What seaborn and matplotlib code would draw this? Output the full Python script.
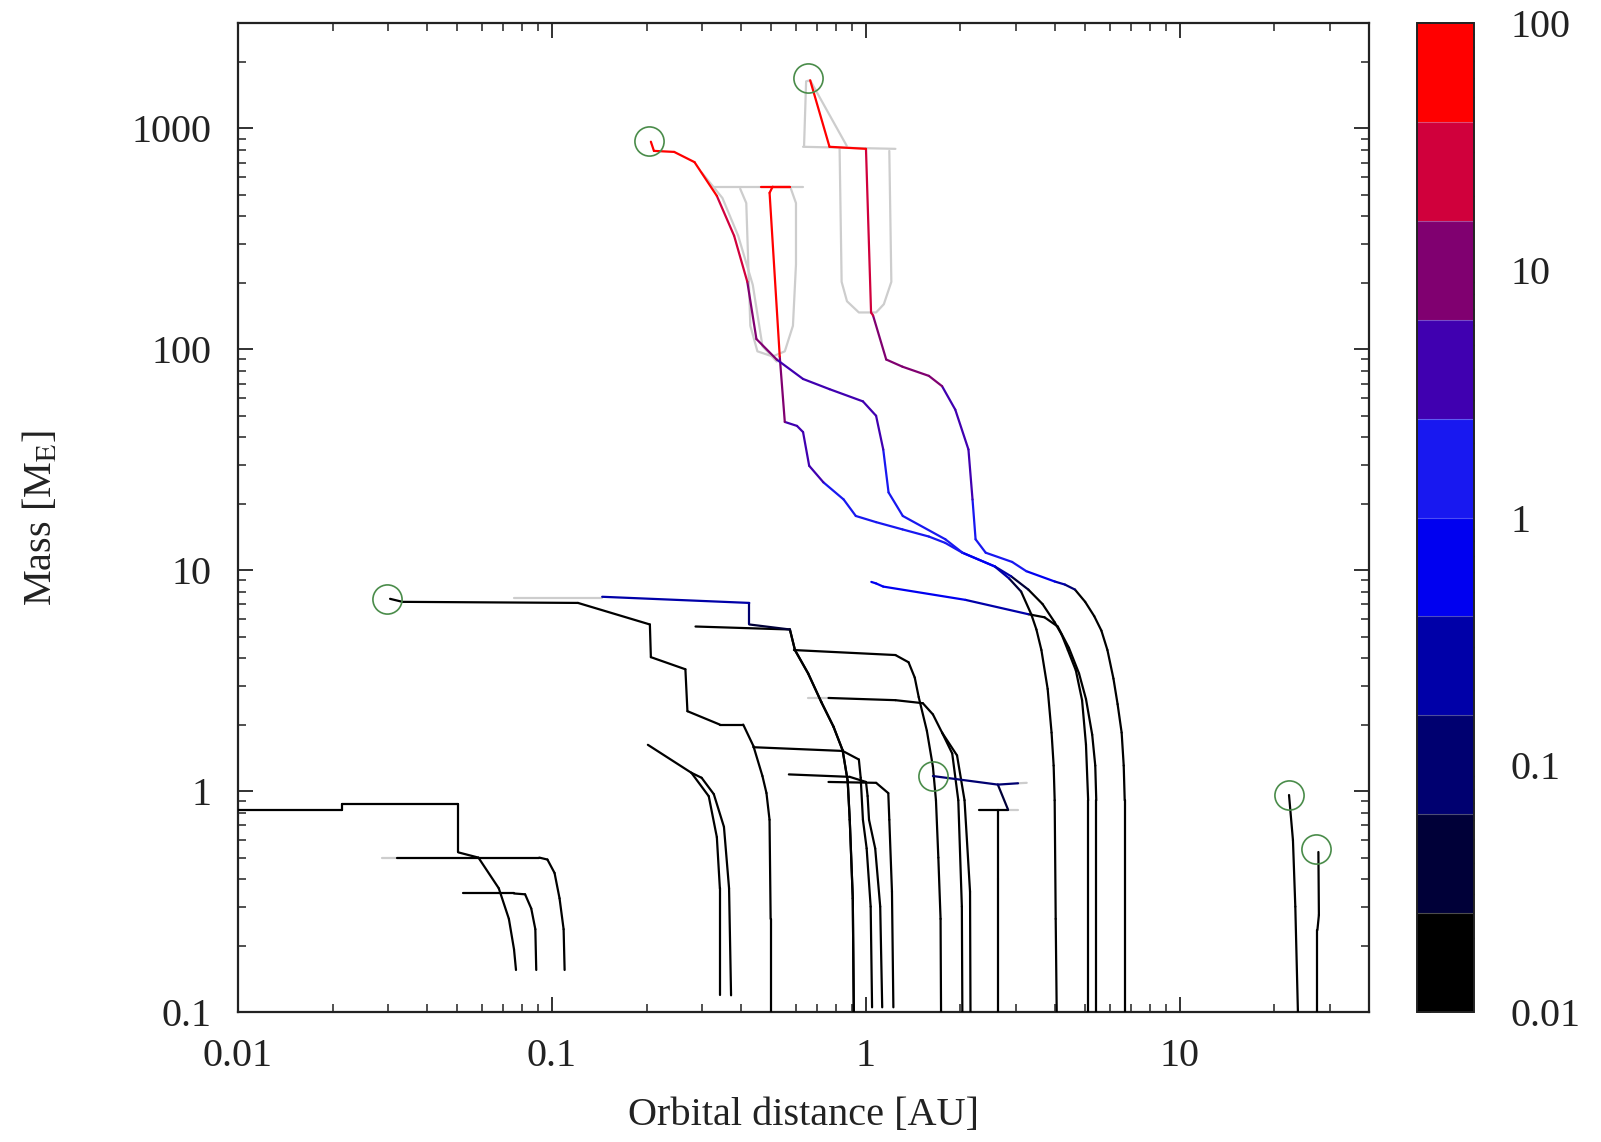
import matplotlib
matplotlib.use("Agg")
import numpy as np
import pandas as pd
import matplotlib.pyplot as plt
import seaborn as sns
from matplotlib.collections import LineCollection
from matplotlib.colors import ListedColormap, LogNorm
from matplotlib.cm import ScalarMappable
from matplotlib.ticker import LogLocator, NullFormatter, FuncFormatter, FixedLocator

# ---------------- data ----------------
# colour-bar bands (bottom -> top), values 0.01 .. 100 on a log scale
band_colors = ['#000000', '#000038', '#000070', '#0000a8', '#0000f0',
               '#1818f0', '#4000b0', '#800070', '#d0003c', '#ff0000']
cbar_ticks = [0.01, 0.1, 1, 10, 100]
cbar_labels = ['0.01', '0.1', '1', '10', '100']
BLACK_VALUE = 0.012

# formation tracks: orbital distance [AU], mass [M_E] (start -> end)
t0_x = [0.0768, 0.0757, 0.0729, 0.0677, 0.0583, 0.0503, 0.0503, 0.0215, 0.0215, 0.0095]
t0_y = [0.155, 0.192, 0.264, 0.363, 0.50, 0.528, 0.871, 0.871, 0.825, 0.825]
t1_x = [0.1097, 0.1089, 0.1057, 0.1019, 0.0967, 0.0911, 0.0322]
t1_y = [0.155, 0.237, 0.327, 0.426, 0.49, 0.50, 0.50]
t2_x = [0.0891, 0.0885, 0.0859, 0.0821, 0.0757, 0.0522]
t2_y = [0.155, 0.237, 0.294, 0.341, 0.344, 0.344]
t3_x = [0.497, 0.497, 0.493, 0.482, 0.468, 0.438, 0.4065, 0.3425, 0.270, 0.266, 0.2065,
        0.205, 0.121, 0.0334, 0.0305]
t3_y = [0.10, 0.264, 0.742, 0.98, 1.17, 1.60, 2.00, 2.00, 2.30, 3.56, 4.04, 5.68, 7.11,
        7.19, 7.42]
t4_x = [0.9146, 0.9078, 0.8878, 0.8745, 0.8426, 0.788, 0.7207, 0.6543, 0.594, 0.5724,
        0.425, 0.425, 0.1445]
t4_y = [0.10, 0.327, 0.742, 1.112, 1.53, 1.958, 2.53, 3.41, 4.35, 5.39, 5.68, 7.11, 7.58]
t4_c = [0.012, 0.012, 0.012, 0.012, 0.012, 0.012, 0.012, 0.012, 0.012, 0.03, 0.08, 0.2, 0.3]
t5_x = [0.9146, 0.9078, 0.8878, 0.8745, 0.8426, 0.788, 0.7207, 0.6543, 0.594, 0.5724, 0.2865]
t5_y = [0.10, 0.327, 0.742, 1.112, 1.53, 1.958, 2.53, 3.41, 4.35, 5.39, 5.56]
t6_x = [1.7341, 1.728, 1.70, 1.6707, 1.6338, 1.563, 1.472, 1.43, 1.3665, 1.2409, 0.5896]
t6_y = [0.10, 0.264, 0.5, 0.909, 1.29, 1.875, 2.666, 3.265, 3.83, 4.13, 4.35]
t7_x = [2.0275, 2.02, 1.9679, 1.8823, 1.747, 1.634, 1.5171, 1.2409, 0.7597]
t7_y = [0.10, 0.30, 0.909, 1.48, 1.84, 2.224, 2.50, 2.58, 2.64]
t8_x = [2.152, 2.145, 2.06, 1.95, 1.747]
t8_y = [0.10, 0.35, 0.909, 1.45, 1.84]
t9_x = [2.63, 2.63, 2.63, 2.834, 2.63, 1.6338]
t9_y = [0.10, 0.40, 0.825, 0.825, 1.07, 1.17]
t9_c = [0.012, 0.012, 0.012, 0.012, 0.1, 0.2]
t9s_x = [2.63, 3.05]
t9s_y = [1.07, 1.085]
t9s_c = [0.15, 0.15]
t9b_x = [2.284, 2.63]
t9b_y = [0.825, 0.825]
t10_x = [1.0457, 1.035, 1.005, 0.9779, 0.962, 0.9492, 0.8426, 0.4379]
t10_y = [0.105, 0.30, 0.55, 0.742, 1.15, 1.39, 1.52, 1.58]
t11_x = [1.1264, 1.11, 1.07, 1.0226, 1.012, 1.0, 0.8878, 0.5681]
t11_y = [0.105, 0.30, 0.55, 0.742, 0.95, 1.10, 1.16, 1.19]
t12_x = [1.2225, 1.21, 1.1866, 1.1778, 1.0773, 0.7597]
t12_y = [0.105, 0.35, 0.742, 0.979, 1.09, 1.10]
t13_x = [0.3425, 0.3425, 0.335, 0.3157, 0.278, 0.202]
t13_y = [0.119, 0.363, 0.619, 0.948, 1.21, 1.62]
t14_x = [0.3718, 0.3664, 0.3529, 0.3276, 0.2996, 0.278]
t14_y = [0.119, 0.363, 0.689, 0.969, 1.149, 1.21]
t15_x = [23.75, 23.3, 22.9, 22.25]
t15_y = [0.10, 0.30, 0.60, 0.96]
t16_x = [27.4, 27.4, 27.7, 27.6]
t16_y = [0.10, 0.235, 0.275, 0.53]

# giant-planet tracks with colour value
g1_x = [4.05, 4.02, 3.99, 3.96, 3.90, 3.79, 3.62, 3.49, 3.36, 3.12, 2.855, 2.57, 2.03, 1.79,
        1.31, 1.18, 1.135, 1.077, 0.978, 0.7653, 0.6304, 0.5196, 0.4478, 0.4188, 0.3802,
        0.335, 0.2844, 0.245, 0.2112, 0.2065]
g1_y = [0.10, 0.264, 0.909, 1.305, 1.84, 2.90, 4.35, 5.39, 6.32, 8.0, 9.18, 10.4, 12.0, 13.8,
        17.6, 22.5, 35.2, 50.0, 58.1, 66.0, 73.4, 89.9, 111.3, 202.2, 326.6, 494.9, 703.5,
        782.6, 791.0, 870.5]
g1_c = [0.012, 0.012, 0.012, 0.012, 0.012, 0.012, 0.012, 0.012, 0.012, 0.03, 0.1, 0.3, 1.0,
        1.2, 1.5, 2.0, 2.5, 3.0, 3.5, 4.0, 5.0, 6.0, 10, 20, 30, 45, 60, 70, 80, 80]
g2_x = [6.668, 6.668, 6.62, 6.52, 6.33, 6.14, 5.875, 5.62, 5.334, 4.99, 4.63, 4.30, 3.99,
        3.24, 2.92, 2.406, 2.234, 2.1845, 2.12, 1.925, 1.747, 1.586, 1.307, 1.16, 1.0534,
        1.038, 1.0, 0.7653, 0.6642]
g2_y = [0.10, 0.909, 1.305, 1.84, 2.475, 3.23, 4.35, 5.33, 6.19, 7.19, 8.17, 8.61, 8.89,
        9.9, 10.9, 12.0, 13.8, 20.9, 35.2, 53.3, 68.1, 75.8, 83.4, 89.9, 142.2, 146.8, 808,
        825.5, 1651]
g2_c = [0.012, 0.012, 0.012, 0.012, 0.012, 0.012, 0.012, 0.012, 0.012, 0.012, 0.03, 0.15,
        0.4, 1.0, 1.3, 1.6, 2.0, 2.5, 3.0, 4.5, 6, 7, 9, 12, 18, 22, 45, 60, 80]
g3_x = [5.10, 5.10, 5.02, 4.878, 4.66, 4.395, 4.20, 3.99, 3.65, 3.289, 2.90, 2.572, 2.0275,
        1.7865, 1.586, 1.307, 1.077, 0.928, 0.849, 0.7317, 0.6593, 0.6304, 0.603, 0.5514,
        0.5313, 0.4932, 0.5043, 0.5724, 0.4647]
g3_y = [0.10, 0.909, 1.62, 2.58, 3.52, 4.35, 5.11, 5.81, 7.03, 8.17, 9.38, 10.4, 12.0,
        13.3, 14.2, 15.3, 16.5, 17.6, 20.9, 25.0, 29.7, 42.2, 45.0, 46.9, 92.8, 510.9,
        544.6, 544.6, 544.6]
g3_c = [0.012, 0.012, 0.012, 0.012, 0.012, 0.012, 0.012, 0.012, 0.02, 0.03, 0.1, 0.3, 1.0,
        1.2, 1.3, 1.4, 1.5, 1.7, 2.0, 2.4, 2.8, 3.5, 4.5, 6, 35, 50, 70, 70, 80]
g4_x = [5.413, 5.413, 5.373, 5.254, 5.02, 4.77, 4.43, 4.08, 3.704, 3.289, 2.073, 1.1347,
        1.0773, 1.04]
g4_y = [0.10, 0.909, 1.305, 1.80, 2.61, 3.41, 4.45, 5.56, 6.12, 6.32, 7.34, 8.43, 8.71, 8.85]
g4_c = [0.012, 0.012, 0.012, 0.012, 0.012, 0.012, 0.012, 0.012, 0.012, 0.05, 0.6, 0.6,
        0.6, 0.6]

# light grey companion curves
gh_g3_bar_x = [0.3276, 0.6304]
gh_g3_bar_y = [544.6, 544.6]
gh_g3_u_x = [0.3976, 0.4157, 0.4219, 0.4282, 0.4511, 0.5043, 0.5514, 0.5853, 0.5985, 0.5985, 0.5767]
gh_g3_u_y = [533, 459, 242, 127.8, 97.9, 92.8, 97.9, 127.8, 242, 459, 533]
gh_g2_bar_x = [0.6304, 1.2409]
gh_g2_bar_y = [825.5, 808]
gh_g2_tri_x = [0.6351, 0.6447, 0.6642, 0.8683]
gh_g2_tri_y = [834, 1633, 1651, 834]
gh_g2_u_x = [0.8241, 0.8365, 0.87, 0.9492, 1.0773, 1.14, 1.2045, 1.1866]
gh_g2_u_y = [808, 202, 165, 146.8, 146.8, 160, 202, 791]
gh_g1_x = [0.2996, 0.349, 0.3917, 0.436, 0.4682, 0.5196]
gh_g1_y = [632, 484, 326.6, 195.7, 103.2, 88]
gh_t1_x = [0.02876, 0.0322]
gh_t1_y = [0.5, 0.5]
gh_t4_x = [0.0757, 0.1445]
gh_t4_y = [7.5, 7.5]
gh_t7_x = [0.6543, 0.7597]
gh_t7_y = [2.64, 2.64]
gh_t9_x = [2.834, 3.054]
gh_t9_y = [0.825, 0.825]
gh_t9s_x = [3.05, 3.25]
gh_t9s_y = [1.085, 1.09]

# final positions (open circles)
circ_x = [0.0299, 0.2035, 0.6543, 1.6338, 22.25, 27.2]
circ_y = [7.42, 880, 1686, 1.17, 0.958, 0.545]

# ---------------- style ----------------
sns.set_theme(style="ticks")
plt.rcParams['font.family'] = ['Liberation Serif', 'DejaVu Serif']
plt.rcParams['mathtext.fontset'] = 'stix'
FS = 29
LW = 1.6

W, H = 1601, 1142
fig = plt.figure(figsize=(W / 100, H / 100), dpi=100)
fig.patch.set_facecolor('white')
ax = fig.add_axes([238 / W, 130 / H, 1131 / W, 989 / H])
ax.set_facecolor('white')
ax.set_xscale('log')
ax.set_yscale('log')
ax.set_xlim(0.01, 40)
ax.set_ylim(0.1, 3000)

cmap = ListedColormap(band_colors)
norm = LogNorm(vmin=0.01, vmax=100)

# grey companion curves via seaborn
ghost_sets = [(gh_g3_bar_x, gh_g3_bar_y), (gh_g3_u_x, gh_g3_u_y), (gh_g2_bar_x, gh_g2_bar_y),
              (gh_g2_tri_x, gh_g2_tri_y), (gh_g2_u_x, gh_g2_u_y), (gh_g1_x, gh_g1_y),
              (gh_t1_x, gh_t1_y), (gh_t4_x, gh_t4_y), (gh_t7_x, gh_t7_y),
              (gh_t9_x, gh_t9_y), (gh_t9s_x, gh_t9s_y)]
rows = []
for k, (gx, gy) in enumerate(ghost_sets):
    for i, (a, b) in enumerate(zip(gx, gy)):
        rows.append({'ghost': k, 'order': i, 'x': a, 'y': b})
gdf = pd.DataFrame(rows)
sns.lineplot(data=gdf, x='x', y='y', units='ghost', estimator=None, sort=False,
             color='#cdcdcd', lw=LW, ax=ax, zorder=2, legend=False)


def draw_track(x, y, c=None, z=3, lw=LW):
    pts = np.column_stack([x, y])
    segs = np.stack([pts[:-1], pts[1:]], axis=1)
    if c is None:
        cols = [cmap(norm(BLACK_VALUE))] * len(segs)
    else:
        cc = np.asarray(c, dtype=float)
        cols = cmap(norm(np.sqrt(cc[:-1] * cc[1:])))
    lc = LineCollection(segs, colors=cols, linewidths=lw, capstyle='round',
                        joinstyle='round', zorder=z)
    ax.add_collection(lc)


black_tracks = [(t0_x, t0_y), (t1_x, t1_y), (t2_x, t2_y), (t3_x, t3_y), (t5_x, t5_y),
                (t6_x, t6_y), (t7_x, t7_y), (t8_x, t8_y), (t9b_x, t9b_y), (t10_x, t10_y),
                (t11_x, t11_y), (t12_x, t12_y), (t13_x, t13_y), (t14_x, t14_y),
                (t15_x, t15_y), (t16_x, t16_y)]
for bx, by in black_tracks:
    draw_track(bx, by)

colour_tracks = [(t4_x, t4_y, t4_c), (t9_x, t9_y, t9_c), (t9s_x, t9s_y, t9s_c),
                 (g4_x, g4_y, g4_c), (g3_x, g3_y, g3_c), (g1_x, g1_y, g1_c), (g2_x, g2_y, g2_c)]
for cx, cy, cc in colour_tracks:
    draw_track(cx, cy, cc, z=4)

ax.plot(circ_x, circ_y, ls='none', marker='o', ms=21, mfc='none', mec='#4a8c4a', mew=1.2, zorder=5)

# axes formatting
fmt = FuncFormatter(lambda v, p: f'{v:g}')
ax.xaxis.set_major_locator(FixedLocator([0.01, 0.1, 1, 10]))
ax.yaxis.set_major_locator(FixedLocator([0.1, 1, 10, 100, 1000]))
ax.xaxis.set_minor_locator(LogLocator(base=10, subs=np.arange(2, 10)))
ax.yaxis.set_minor_locator(LogLocator(base=10, subs=np.arange(2, 10)))
ax.xaxis.set_major_formatter(fmt)
ax.yaxis.set_major_formatter(fmt)
ax.xaxis.set_minor_formatter(NullFormatter())
ax.yaxis.set_minor_formatter(NullFormatter())
ax.tick_params(which='both', direction='in', top=True, right=True, colors='#222222',
               labelcolor='#222222', labelsize=FS, pad=19)
ax.tick_params(which='major', length=11, width=1.3)
ax.tick_params(which='minor', length=6, width=1.1)
for sp in ax.spines.values():
    sp.set_linewidth(1.6)
    sp.set_color('#222222')

ax.set_xlabel('Orbital distance [AU]', fontsize=FS, color='#222222')
ax.set_ylabel(r'Mass [M$_{\rm E}$]', fontsize=FS, color='#222222')
ax.xaxis.label.set_va('center')
ax.yaxis.label.set_va('center')
ax.xaxis.set_label_coords(0.5, -0.105)
ax.yaxis.set_label_coords(-0.174, 0.5)

# colour bar
cax = fig.add_axes([1417 / W, 130 / H, 57 / W, 989 / H])
sm = ScalarMappable(norm=norm, cmap=cmap)
cb = fig.colorbar(sm, cax=cax)
cb.set_ticks(cbar_ticks)
cb.set_ticklabels(cbar_labels)
cax.yaxis.set_minor_locator(LogLocator(base=10, subs=np.arange(2, 10)))
cax.yaxis.set_minor_formatter(NullFormatter())
cax.tick_params(which='both', direction='in', left=True, right=True, labelleft=False,
                labelright=True, labelsize=FS, colors='#222222', pad=26)
cax.tick_params(which='major', length=10, width=1.1)
cax.tick_params(which='minor', length=5, width=0.9)
for b in np.logspace(-2, 2, len(band_colors) + 1)[1:-1]:
    cax.axhline(b, color='white', lw=0.8, alpha=0.3)
cb.outline.set_linewidth(1.4)
cb.outline.set_edgecolor('#222222')

fig.savefig('out.png', dpi=100, facecolor='white')
